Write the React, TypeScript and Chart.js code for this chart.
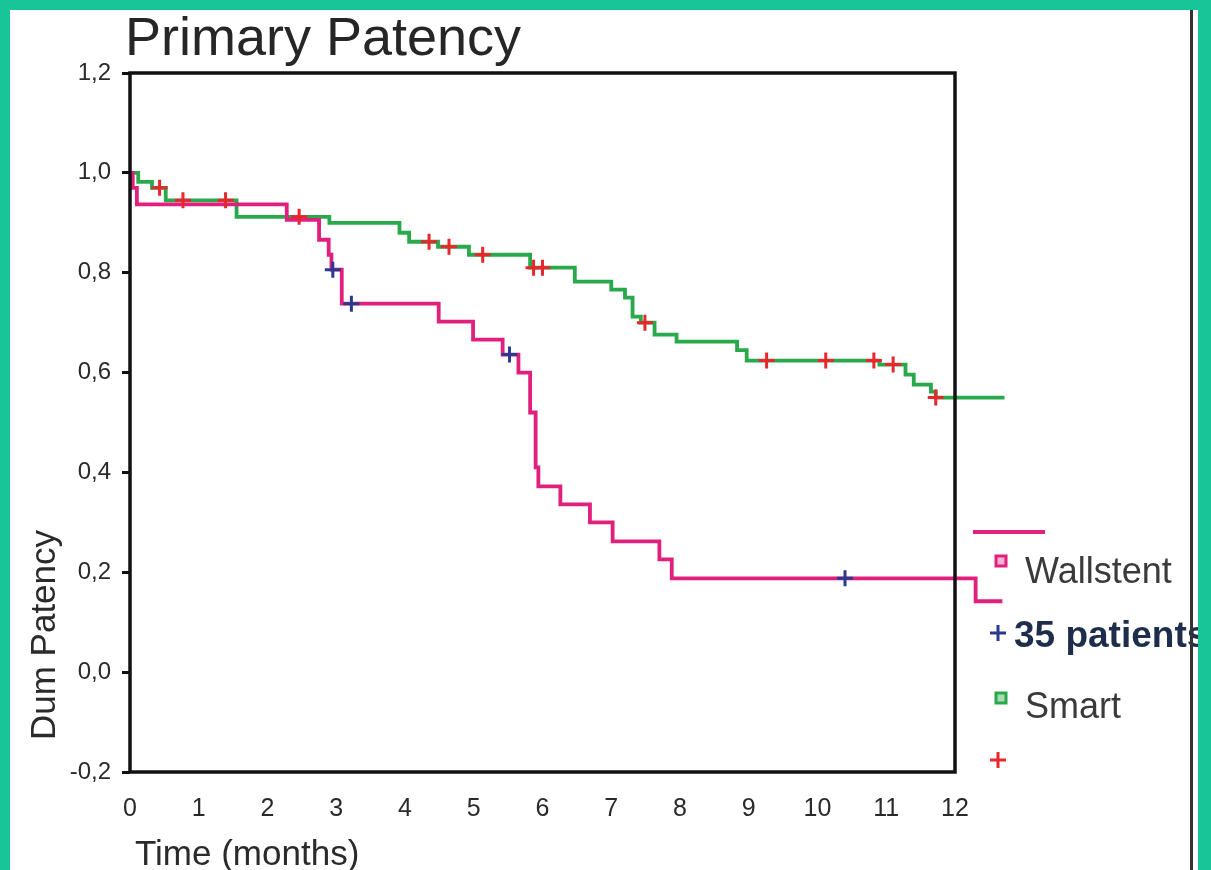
import { useEffect, useRef } from "react";
import { Chart, registerables } from "chart.js";

Chart.register(...registerables);

// Kaplan–Meier step curves: time (months) of each step and survival after it
const smartTimes = [0, 0.12, 0.32, 0.52, 1.55, 2.9, 3.92, 4.06, 4.48, 4.93, 5.82, 6.47, 7.0, 7.2, 7.31, 7.43, 7.63, 7.95, 8.83, 8.97, 10.9, 11.28, 11.4, 11.65, 11.72, 12.72];
const smartSurvival = [1.0, 0.982, 0.97, 0.945, 0.912, 0.9, 0.88, 0.862, 0.852, 0.836, 0.81, 0.782, 0.766, 0.75, 0.712, 0.7, 0.676, 0.662, 0.645, 0.624, 0.616, 0.596, 0.576, 0.562, 0.55, 0.55];
const smartCensored = [0.43, 0.77, 1.39, 2.46, 4.35, 4.64, 5.13, 5.87, 6.0, 7.49, 9.26, 10.12, 10.82, 11.1, 11.72];

const wallTimes = [0, 0.04, 0.1, 2.28, 2.75, 2.89, 2.93, 3.08, 4.49, 4.99, 5.42, 5.65, 5.82, 5.9, 5.94, 6.26, 6.69, 7.02, 7.7, 7.88, 12.3, 12.69];
const wallSurvival = [1.0, 0.97, 0.937, 0.906, 0.866, 0.836, 0.806, 0.738, 0.702, 0.666, 0.636, 0.6, 0.52, 0.41, 0.372, 0.336, 0.3, 0.262, 0.226, 0.188, 0.142, 0.142];
const wallCensored = [2.95, 3.22, 5.52, 10.4];

const xRange = [0, 12];
const yRange = [-0.2, 1.2];

const FONT = '"Liberation Sans", Arial, Helvetica, sans-serif';
const PINK = "#e0207c";
const GREEN = "#2aa84c";
const RED = "#e8262b";
const BLUE = "#2b3990";
const TEAL = "#17c598";

function survivalAt(times: number[], surv: number[], t: number) {
  let v = surv[0];
  for (let i = 0; i < times.length; i++) if (times[i] <= t) v = surv[i];
  return v;
}

function formatComma(v: number) {
  return (Math.round(v * 10) / 10).toFixed(1).replace(".", ",");
}

const decorations = {
  id: "decorations",
  afterDatasetsDraw(chart: any) {
    const { ctx, chartArea: a } = chart;
    ctx.save();
    ctx.strokeStyle = "#111";
    ctx.lineWidth = 3.5;
    ctx.strokeRect(a.left, a.top, a.right - a.left, a.bottom - a.top);
    ctx.restore();
  },
  afterDraw(chart: any) {
    const { ctx, width, height } = chart;
    ctx.save();

    // title
    ctx.fillStyle = "#262626";
    ctx.font = `54px ${FONT}`;
    ctx.textAlign = "left";
    ctx.textBaseline = "alphabetic";
    ctx.fillText("Primary Patency", 125, 55);

    // axis titles
    ctx.font = `35px ${FONT}`;
    ctx.fillStyle = "#2a2a2a";
    ctx.fillText("Time (months)", 135, 865);

    ctx.save();
    ctx.translate(55, 635);
    ctx.rotate(-Math.PI / 2);
    ctx.font = `35px ${FONT}`;
    ctx.textAlign = "center";
    ctx.fillText("Dum Patency", 0, 0);
    ctx.restore();

    // legend
    ctx.lineCap = "butt";
    ctx.strokeStyle = PINK;
    ctx.lineWidth = 4;
    ctx.beginPath();
    ctx.moveTo(973, 532);
    ctx.lineTo(1045, 532);
    ctx.stroke();

    const square = (cx: number, cy: number, color: string, fill: string) => {
      ctx.fillStyle = fill;
      ctx.fillRect(cx - 5, cy - 5, 10, 10);
      ctx.strokeStyle = color;
      ctx.lineWidth = 3;
      ctx.strokeRect(cx - 5, cy - 5, 10, 10);
    };
    const plus = (cx: number, cy: number, color: string) => {
      ctx.strokeStyle = color;
      ctx.lineWidth = 3;
      ctx.beginPath();
      ctx.moveTo(cx - 8, cy);
      ctx.lineTo(cx + 8, cy);
      ctx.moveTo(cx, cy - 8);
      ctx.lineTo(cx, cy + 8);
      ctx.stroke();
    };

    square(1001, 561, PINK, "#f6b3d2");
    plus(998, 633, BLUE);
    square(1001, 698, GREEN, "#a8dcb4");
    plus(998, 760, RED);

    ctx.textAlign = "left";
    ctx.textBaseline = "alphabetic";
    ctx.font = `36px ${FONT}`;
    ctx.fillStyle = "#3a3a3a";
    ctx.fillText("Wallstent", 1025, 583);
    ctx.fillText("Smart", 1025, 718);
    ctx.font = `bold 37px ${FONT}`;
    ctx.fillStyle = "#1f2d4d";
    ctx.fillText("35 patients", 1014, 647);

    // page frame
    ctx.fillStyle = "#333";
    ctx.fillRect(1190, 10, 3, height - 10);
    ctx.fillStyle = TEAL;
    ctx.fillRect(0, 0, width, 10);
    ctx.fillRect(0, 0, 10, height);
    ctx.fillRect(1198, 0, width - 1198, height);
    ctx.restore();
  },
};

export default function App() {
  const canvasRef = useRef<HTMLCanvasElement | null>(null);

  useEffect(() => {
    const canvas = canvasRef.current;
    if (!canvas) return;

    const chart = new Chart(canvas, {
      type: "line",
      data: {
        datasets: [
          {
            type: "scatter",
            label: "Smart censored",
            data: smartCensored.map((t) => ({ x: t, y: survivalAt(smartTimes, smartSurvival, t) })),
            pointStyle: "cross",
            pointRadius: 8,
            pointBorderWidth: 3,
            borderColor: RED,
            backgroundColor: RED,
            showLine: false,
            order: 0,
          },
          {
            type: "scatter",
            label: "Wallstent censored",
            data: wallCensored.map((t) => ({ x: t, y: survivalAt(wallTimes, wallSurvival, t) })),
            pointStyle: "cross",
            pointRadius: 8,
            pointBorderWidth: 3,
            borderColor: BLUE,
            backgroundColor: BLUE,
            showLine: false,
            order: 0,
          },
          {
            label: "Wallstent",
            data: wallTimes.map((t, i) => ({ x: t, y: wallSurvival[i] })),
            stepped: true,
            borderColor: PINK,
            borderWidth: 3.8,
            pointRadius: 0,
            fill: false,
            clip: false,
            order: 1,
          },
          {
            label: "Smart",
            data: smartTimes.map((t, i) => ({ x: t, y: smartSurvival[i] })),
            stepped: true,
            borderColor: GREEN,
            borderWidth: 3.8,
            pointRadius: 0,
            fill: false,
            clip: false,
            order: 2,
          },
        ],
      },
      options: {
        responsive: false,
        animation: false,
        events: [],
        layout: { padding: { left: 0, top: 73, right: 256, bottom: 28 } },
        plugins: {
          legend: { display: false },
          tooltip: { enabled: false },
          title: { display: false },
        },
        scales: {
          x: {
            type: "linear",
            afterDataLimits: (s: any) => {
              s.min = xRange[0];
              s.max = xRange[1];
            },
            afterFit: (s: any) => {
              s.height = 70;
            },
            ticks: {
              stepSize: 1,
              autoSkip: false,
              maxRotation: 0,
              padding: 22,
              color: "#2a2a2a",
              font: { family: FONT, size: 25 },
            },
            grid: { display: true, drawOnChartArea: false, drawTicks: false },
            border: { display: false },
          },
          y: {
            type: "linear",
            min: yRange[0],
            max: yRange[1],
            afterFit: (s: any) => {
              s.width = 130;
            },
            ticks: {
              stepSize: 0.2,
              padding: 11,
              color: "#2a2a2a",
              font: { family: FONT, size: 24 },
              callback: (v: any) => formatComma(Number(v)),
            },
            grid: {
              display: true,
              drawOnChartArea: false,
              drawTicks: true,
              tickLength: 8,
              tickWidth: 3,
              tickColor: "#111",
            },
            border: { display: false },
          },
        },
      },
      plugins: [decorations],
    } as any);

    return () => chart.destroy();
  }, []);

  return (
    <div style={{ position: "absolute", left: 0, top: 0, width: 1211, height: 870, background: "#fff" }}>
      <canvas ref={canvasRef} width={1211} height={870} style={{ display: "block" }} />
    </div>
  );
}
